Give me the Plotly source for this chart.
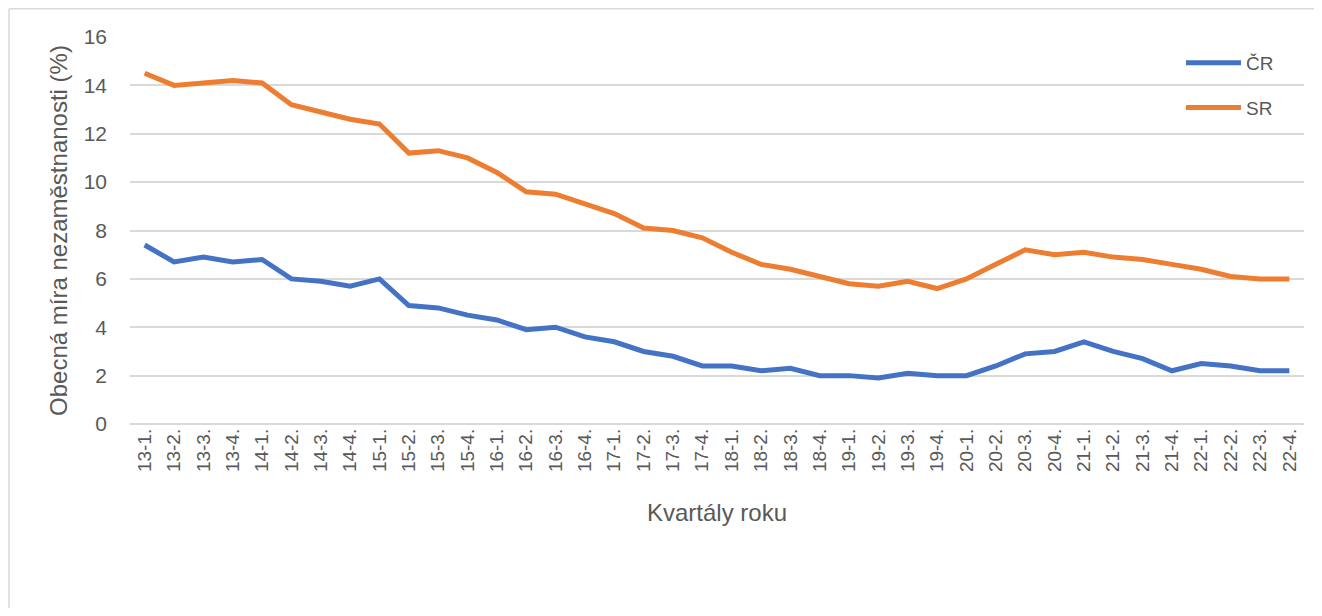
import plotly.graph_objects as go

quarters = ["13-1.", "13-2.", "13-3.", "13-4.", "14-1.", "14-2.", "14-3.", "14-4.",
            "15-1.", "15-2.", "15-3.", "15-4.", "16-1.", "16-2.", "16-3.", "16-4.",
            "17-1.", "17-2.", "17-3.", "17-4.", "18-1.", "18-2.", "18-3.", "18-4.",
            "19-1.", "19-2.", "19-3.", "19-4.", "20-1.", "20-2.", "20-3.", "20-4.",
            "21-1.", "21-2.", "21-3.", "21-4.", "22-1.", "22-2.", "22-3.", "22-4."]

cr = [7.4, 6.7, 6.9, 6.7, 6.8, 6.0, 5.9, 5.7, 6.0, 4.9, 4.8, 4.5, 4.3, 3.9, 4.0, 3.6,
      3.4, 3.0, 2.8, 2.4, 2.4, 2.2, 2.3, 2.0, 2.0, 1.9, 2.1, 2.0, 2.0, 2.4, 2.9, 3.0,
      3.4, 3.0, 2.7, 2.2, 2.5, 2.4, 2.2, 2.2]

sr = [14.5, 14.0, 14.1, 14.2, 14.1, 13.2, 12.9, 12.6, 12.4, 11.2, 11.3, 11.0, 10.4, 9.6,
      9.5, 9.1, 8.7, 8.1, 8.0, 7.7, 7.1, 6.6, 6.4, 6.1, 5.8, 5.7, 5.9, 5.6, 6.0, 6.6,
      7.2, 7.0, 7.1, 6.9, 6.8, 6.6, 6.4, 6.1, 6.0, 6.0]

y_ticks = [0, 2, 4, 6, 8, 10, 12, 14, 16]

FONT = "Liberation Sans, Arial, sans-serif"
GRAY = "#595959"

fig = go.Figure()
fig.add_trace(go.Scatter(x=quarters, y=cr, mode="lines", name="ČR", legendgroup="cr",
                         line=dict(color="#4472C4", width=5)))
fig.add_trace(go.Scatter(x=quarters, y=sr, mode="lines", name="SR", legendgroup="sr",
                         line=dict(color="#ED7D31", width=5)))

# page body has an 8px margin, so screen coords = figure coords + 8
L, R, T, B = 122, 18, 29, 184
W, H = 1314, 600
pw, ph = W - L - R, H - T - B
OFF = 8

def px_x(xs):
    return (xs - OFF - L) / pw

def px_y(ys):
    return (H - B - (ys - OFF)) / ph

frame = dict(color="#d9d9d9", width=1.5)
fig.add_shape(type="line", xref="paper", yref="paper",
              x0=px_x(9), x1=px_x(1322), y0=px_y(8.8), y1=px_y(8.8), line=frame, layer="below")
fig.add_shape(type="line", xref="paper", yref="paper",
              x0=px_x(9), x1=px_x(9), y0=px_y(8.8), y1=px_y(616), line=frame, layer="below")

fig.update_layout(
    width=W, height=H,
    margin=dict(l=L, r=R, t=T, b=B),
    paper_bgcolor="white", plot_bgcolor="white",
    font=dict(family=FONT, color=GRAY),
    showlegend=True,
    legend=dict(x=px_x(1181), y=px_y(44), xanchor="left", yanchor="top",
                font=dict(size=19, color=GRAY), tracegroupgap=17, itemwidth=55,
                bgcolor="rgba(0,0,0,0)"),
    xaxis=dict(type="category", range=[-0.5, len(quarters) - 0.5], tickangle=-90,
               tickfont=dict(size=19, color=GRAY),
               showgrid=False, showline=False, ticks="", ticklen=0,
               title=dict(text="Kvartály roku", font=dict(size=24, color=GRAY), standoff=33)),
    yaxis=dict(range=[0, 16], tickvals=y_ticks, tickfont=dict(size=21, color=GRAY),
               showgrid=True, gridcolor="#d9d9d9", gridwidth=1.5,
               zeroline=True, zerolinecolor="#d9d9d9", zerolinewidth=1.5,
               showline=False, ticks="", ticklabelstandoff=22,
               title=dict(text="Obecná míra nezaměstnanosti (%)", font=dict(size=24, color=GRAY),
                          standoff=9)),
)

fig.write_html("out.html")
